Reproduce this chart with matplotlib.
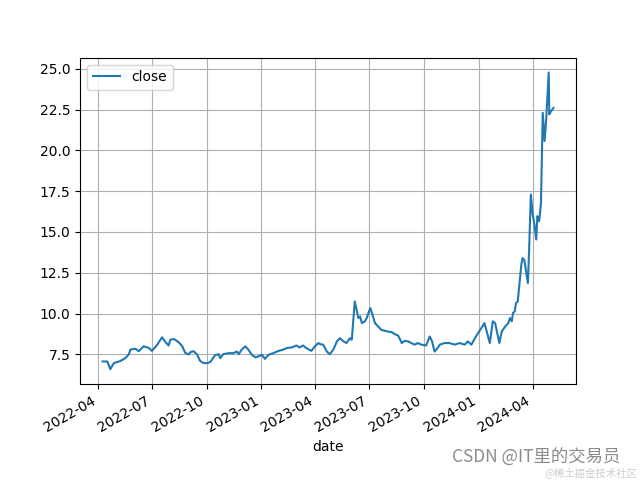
import matplotlib
matplotlib.use("Agg")
import matplotlib.pyplot as plt
import pandas as pd

# closing prices
dates = [
    "2022-04-09", "2022-04-17", "2022-04-22", "2022-04-28", "2022-05-09", "2022-05-17",
    "2022-05-23", "2022-05-26", "2022-06-03", "2022-06-09", "2022-06-17", "2022-06-26",
    "2022-07-01", "2022-07-10", "2022-07-18", "2022-07-24", "2022-07-29", "2022-08-01",
    "2022-08-07", "2022-08-15", "2022-08-21", "2022-08-26", "2022-09-01", "2022-09-04",
    "2022-09-09", "2022-09-15", "2022-09-20", "2022-09-26", "2022-10-02", "2022-10-07",
    "2022-10-15", "2022-10-21", "2022-10-24", "2022-10-29", "2022-11-07", "2022-11-15",
    "2022-11-21", "2022-11-24", "2022-11-29", "2022-12-05", "2022-12-10", "2022-12-16",
    "2022-12-22", "2022-12-27", "2023-01-02", "2023-01-07", "2023-01-13", "2023-01-21",
    "2023-01-30", "2023-02-07", "2023-02-13", "2023-02-21", "2023-03-01", "2023-03-06",
    "2023-03-12", "2023-03-17", "2023-03-26", "2023-04-01", "2023-04-07", "2023-04-10",
    "2023-04-15", "2023-04-21", "2023-04-26", "2023-05-02", "2023-05-08", "2023-05-13",
    "2023-05-19", "2023-05-24", "2023-05-30", "2023-06-02", "2023-06-04", "2023-06-07",
    "2023-06-10", "2023-06-13", "2023-06-16", "2023-06-19", "2023-06-24", "2023-06-27",
    "2023-07-03", "2023-07-05", "2023-07-11", "2023-07-16", "2023-07-22", "2023-07-28",
    "2023-08-02", "2023-08-08", "2023-08-13", "2023-08-19", "2023-08-25", "2023-08-30",
    "2023-09-05", "2023-09-10", "2023-09-16", "2023-09-21", "2023-09-27", "2023-10-05",
    "2023-10-11", "2023-10-15", "2023-10-19", "2023-10-22", "2023-10-28", "2023-11-05",
    "2023-11-13", "2023-11-22", "2023-11-30", "2023-12-09", "2023-12-14", "2023-12-20",
    "2023-12-26", "2024-01-02", "2024-01-11", "2024-01-20", "2024-01-25", "2024-01-29",
    "2024-02-05", "2024-02-09", "2024-02-15", "2024-02-20", "2024-02-23", "2024-02-26",
    "2024-02-28", "2024-03-02", "2024-03-04", "2024-03-07", "2024-03-10", "2024-03-13",
    "2024-03-15", "2024-03-18", "2024-03-24", "2024-03-26", "2024-03-29", "2024-04-01",
    "2024-04-04", "2024-04-07", "2024-04-09", "2024-04-12", "2024-04-15", "2024-04-18",
    "2024-04-21", "2024-04-24", "2024-04-28", "2024-04-29", "2024-05-02", "2024-05-06",
]
close = [
    7.07, 7.07, 6.6, 6.97, 7.1, 7.27,
    7.5, 7.8, 7.85, 7.7, 8.0, 7.9,
    7.72, 8.1, 8.55, 8.25, 8.05, 8.4,
    8.45, 8.25, 8.0, 7.6, 7.5, 7.65,
    7.7, 7.5, 7.1, 6.97, 6.97, 7.03,
    7.45, 7.52, 7.27, 7.52, 7.58, 7.58,
    7.68, 7.52, 7.8, 8.0, 7.8, 7.48,
    7.32, 7.38, 7.48, 7.23, 7.48, 7.58,
    7.72, 7.8, 7.9, 7.93, 8.05, 7.93,
    8.05, 7.9, 7.72, 8.0, 8.2, 8.13,
    8.1, 7.68, 7.52, 7.8, 8.3, 8.5,
    8.3, 8.2, 8.5, 8.4, 9.32, 10.75,
    10.24, 9.73, 9.83, 9.42, 9.53, 9.73,
    10.34, 10.14, 9.42, 9.22, 9.0, 8.95,
    8.9, 8.87, 8.75, 8.65, 8.2, 8.33,
    8.3, 8.2, 8.1, 8.2, 8.1, 8.05,
    8.6, 8.3, 7.68, 7.78, 8.1, 8.2,
    8.2, 8.1, 8.2, 8.1, 8.3, 8.1,
    8.5, 8.9, 9.42, 8.2, 9.53, 9.42,
    8.2, 8.9, 9.22, 9.42, 9.73, 9.53,
    10.04, 10.14, 10.65, 10.75, 11.87, 13.0,
    13.4, 13.3, 11.87, 13.8, 17.3, 16.1,
    15.46, 14.54, 15.97, 15.66, 16.75, 22.3,
    20.57, 22.0, 24.77, 22.2, 22.4, 22.6,
]

df = pd.DataFrame({"date": pd.to_datetime(dates), "close": close})

fig, ax = plt.subplots(figsize=(6.4, 4.8), dpi=100)
ax.plot(df["date"], df["close"], label="close")
ax.set_xlabel("date")
ax.grid(True)
ax.legend(loc="upper left")
fig.autofmt_xdate()

# site watermark
cjk = ["Noto Sans CJK SC", "DejaVu Sans"]
fig.text(0.97, 0.047, "CSDN @IT里的交易员", ha="right", va="center",
         fontsize=12.5, color="#8c8c8c", family=cjk)
fig.text(0.995, 0.004, "@稀土掘金技术社区", ha="right", va="bottom",
         fontsize=7.5, color="#cccccc", family=cjk)

fig.savefig("out.png")
